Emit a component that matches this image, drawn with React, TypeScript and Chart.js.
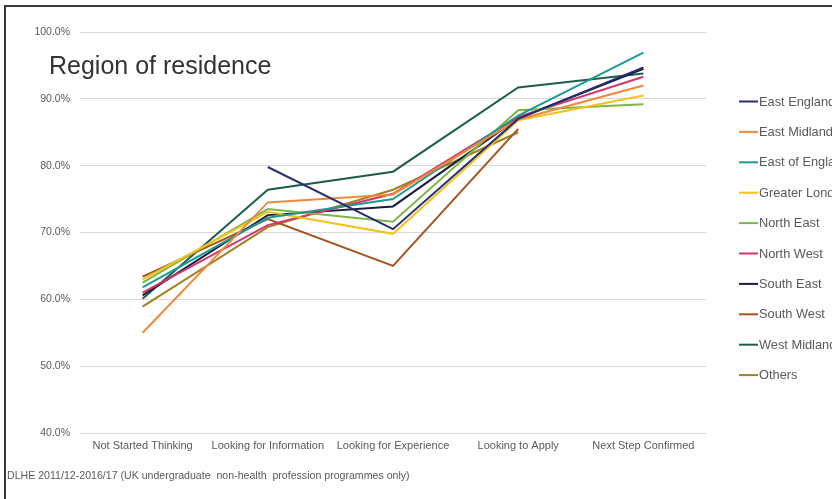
import React, { useEffect, useRef } from "react";
import { Chart, registerables } from "chart.js";

Chart.register(...registerables);

const FONT = "'Liberation Sans', Arial, sans-serif";

const categories = [
  "Not Started Thinking",
  "Looking for Information",
  "Looking for Experience",
  "Looking to Apply",
  "Next Step Confirmed",
];

const regionNames = [
  "East England",
  "East Midlands",
  "East of England",
  "Greater London",
  "North East",
  "North West",
  "South East",
  "South West",
  "West Midlands",
  "Others",
];

const regionColors = [
  "#27306e",
  "#f0893c",
  "#1f9a93",
  "#f5c21b",
  "#7cb548",
  "#d5346b",
  "#1c1b3c",
  "#a5531f",
  "#1f5d4e",
  "#a2801f",
];

const eastEngland = [null, 79.8, 70.5, 87.0, 94.7];
const eastMidlands = [55.0, 74.5, 75.7, 86.9, 92.0];
const eastOfEngland = [61.8, 72.2, 75.0, 87.5, 96.9];
const greaterLondon = [63.0, 73.1, 69.8, 86.8, 90.5];
const northEast = [62.5, 73.5, 71.6, 88.3, 89.2];
const northWest = [61.0, 71.1, 75.8, 87.3, 93.3];
const southEast = [60.6, 72.6, 73.9, 87.1, 94.5];
const southWest = [63.4, 72.0, 65.0, 85.5, null];
const westMidlands = [60.1, 76.4, 79.1, 91.7, 93.8];
const others = [58.9, 70.8, 76.4, 85.0, null];

const regionValues = [
  eastEngland,
  eastMidlands,
  eastOfEngland,
  greaterLondon,
  northEast,
  northWest,
  southEast,
  southWest,
  westMidlands,
  others,
];

const yTicks = [40, 50, 60, 70, 80, 90, 100];

const chartTitle = "Region of residence";
const footnote =
  "DLHE 2011/12-2016/17 (UK undergraduate  non-health  profession programmes only)";

// Title, footnote and a right-hand legend drawn straight onto the canvas
const decorations = {
  id: "decorations",
  afterDraw(chart: any) {
    const ctx = chart.ctx as CanvasRenderingContext2D;
    ctx.save();

    ctx.fillStyle = "#333333";
    ctx.font = `25px ${FONT}`;
    ctx.textBaseline = "alphabetic";
    ctx.textAlign = "left";
    ctx.fillText(chartTitle, 49, 74);

    ctx.fillStyle = "#595959";
    ctx.font = `10.6px ${FONT}`;
    ctx.textBaseline = "middle";
    ctx.fillText(footnote, 7, 476);

    const x0 = 739;
    const y0 = 101.5;
    const step = 30.4;
    ctx.font = `12.8px ${FONT}`;
    chart.data.datasets.forEach((ds: any, i: number) => {
      const y = y0 + i * step;
      ctx.strokeStyle = ds.borderColor;
      ctx.lineWidth = 2;
      ctx.beginPath();
      ctx.moveTo(x0, y);
      ctx.lineTo(x0 + 19, y);
      ctx.stroke();
      ctx.fillStyle = "#595959";
      ctx.fillText(ds.label, x0 + 20, y + 0.5);
    });

    ctx.restore();
  },
};

export default function App() {
  const canvasRef = useRef<HTMLCanvasElement | null>(null);

  useEffect(() => {
    const canvas = canvasRef.current;
    if (!canvas) return;
    const chart = new Chart(canvas, {
      type: "line",
      data: {
        labels: categories,
        datasets: regionNames.map((name, i) => ({
          label: name,
          data: regionValues[i],
          borderColor: regionColors[i],
          backgroundColor: regionColors[i],
          borderWidth: 2,
          pointRadius: 0,
          pointHoverRadius: 0,
          tension: 0,
          spanGaps: false,
        })),
      },
      options: {
        responsive: false,
        animation: false,
        events: [],
        layout: { padding: { top: 32, right: 126, left: 0, bottom: 0 } },
        plugins: {
          legend: { display: false },
          title: { display: false },
          tooltip: { enabled: false },
        },
        scales: {
          x: {
            type: "category",
            offset: true,
            grid: { display: false, drawTicks: false },
            border: { display: false },
            ticks: {
              color: "#595959",
              font: { family: FONT, size: 11 },
              padding: 6,
              maxRotation: 0,
              autoSkip: false,
            },
            afterFit(scale: any) {
              scale.height = 66;
            },
          },
          y: {
            min: 40,
            max: 100,
            afterBuildTicks(scale: any) {
              scale.ticks = yTicks.map((v) => ({ value: v }));
            },
            grid: { color: "#d9d9d9", lineWidth: 1, drawTicks: false },
            border: { display: false },
            ticks: {
              color: "#595959",
              font: { family: FONT, size: 10.5 },
              padding: 10,
              callback: (v: any) => `${Number(v).toFixed(1)}%`,
            },
            afterFit(scale: any) {
              scale.width = 80;
            },
          },
        },
      },
      plugins: [decorations],
    });
    return () => chart.destroy();
  }, []);

  return (
    <div
      style={{
        position: "fixed",
        left: 0,
        top: 0,
        width: 832,
        height: 499,
        overflow: "hidden",
        background: "#ffffff",
      }}
    >
      <canvas
        ref={canvasRef}
        width={832}
        height={499}
        style={{ position: "absolute", left: 0, top: 0, width: 832, height: 499 }}
      />
      <div
        style={{
          position: "absolute",
          left: 4,
          top: 5,
          width: 900,
          height: 600,
          borderLeft: "2px solid #3a3a3a",
          borderTop: "2px solid #3a3a3a",
          pointerEvents: "none",
        }}
      />
    </div>
  );
}
